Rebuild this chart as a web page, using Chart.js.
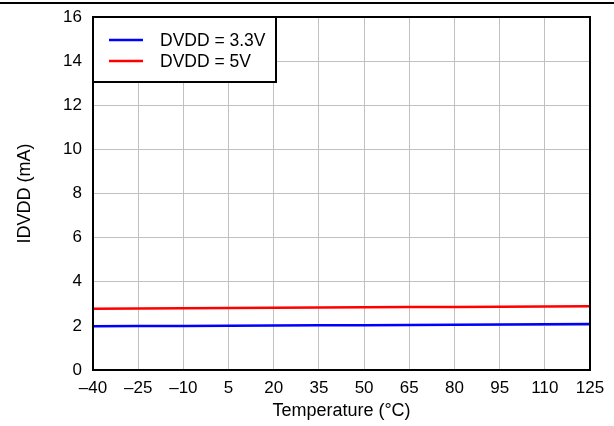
<!DOCTYPE html>
<html>
<head>
<meta charset="utf-8">
<script src="https://cdn.jsdelivr.net/npm/chart.js@4/dist/chart.umd.min.js"></script>
<style>
  html, body { margin: 0; padding: 0; background: #fff; }
  #wrap { position: relative; width: 614px; height: 426px; }
  #topRule { position: absolute; left: 0; top: 2px; width: 614px; height: 2px; background: #000; }
</style>
</head>
<body>
<div id="wrap">
  <div id="topRule"></div>
  <canvas id="chart" width="614" height="426"></canvas>
</div>
<script>
// --- Data ---
const temps = [-40, -25, -10, 5, 20, 35, 50, 65, 80, 95, 110, 125];
const dvdd33 = [1.98, 1.99, 2.0, 2.01, 2.02, 2.03, 2.03, 2.04, 2.05, 2.06, 2.07, 2.08];
const dvdd5 = [2.78, 2.79, 2.8, 2.81, 2.82, 2.83, 2.84, 2.85, 2.86, 2.87, 2.88, 2.89];
const seriesLabels = ['DVDD = 3.3V', 'DVDD = 5V'];
const seriesColors = ['#0000ff', '#ff0000'];

const FONT = 'Liberation Sans, Arial, sans-serif';

// frame around plot area + boxed legend in the top-left corner
const framePlugin = {
  id: 'frame',
  afterDatasetsDraw(chart) {
    const { ctx, chartArea: a } = chart;
    ctx.save();
    // legend box
    const lx = a.left, ly = a.top, lw = 183, lh = 65;
    ctx.fillStyle = '#fff';
    ctx.fillRect(lx, ly, lw, lh);
    ctx.strokeStyle = '#000';
    ctx.lineWidth = 2;
    ctx.strokeRect(lx, ly, lw, lh);
    ctx.font = '17.5px ' + FONT;
    ctx.textBaseline = 'middle';
    chart.data.datasets.forEach((ds, i) => {
      const y = ly + 23 + i * 21;
      ctx.strokeStyle = ds.borderColor;
      ctx.lineWidth = 2.5;
      ctx.beginPath();
      ctx.moveTo(lx + 16, y);
      ctx.lineTo(lx + 50, y);
      ctx.stroke();
      ctx.fillStyle = '#000';
      ctx.fillText(ds.label, lx + 67, y + 1);
    });
    // plot frame
    ctx.strokeStyle = '#000';
    ctx.lineWidth = 2;
    ctx.strokeRect(a.left, a.top, a.right - a.left, a.bottom - a.top);
    ctx.restore();
  }
};

new Chart(document.getElementById('chart'), {
  type: 'line',
  data: {
    labels: temps,
    datasets: [dvdd33, dvdd5].map((vals, i) => ({
      label: seriesLabels[i],
      data: vals.map((v, j) => ({ x: temps[j], y: v })),
      borderColor: seriesColors[i],
      borderWidth: 2.5,
      pointRadius: 0,
      tension: 0,
      fill: false
    }))
  },
  options: {
    responsive: false,
    animation: false,
    layout: { padding: { top: 17, right: 24, left: 0, bottom: 0 } },
    plugins: { legend: { display: false }, tooltip: { enabled: false } },
    scales: {
      x: {
        type: 'linear',
        min: -40,
        max: 125,
        afterFit(s) { s.height = 56; s.paddingLeft = 0; s.paddingRight = 0; },
        ticks: {
          stepSize: 15,
          color: '#000',
          font: { family: FONT, size: 17 },
          padding: 8,
          maxRotation: 0,
          callback: v => String(v).replace('-', '\u2013')
        },
        grid: { color: '#c0c0c0', lineWidth: 1, drawTicks: false },
        border: { color: '#000', width: 2 },
        title: {
          display: true,
          text: 'Temperature (\u00b0C)',
          color: '#000',
          font: { family: FONT, size: 18 },
          padding: { top: 0, bottom: 4 }
        }
      },
      y: {
        min: 0,
        max: 16,
        afterFit(s) { s.width = 93; s.paddingTop = 0; s.paddingBottom = 0; },
        ticks: {
          stepSize: 2,
          color: '#000',
          font: { family: FONT, size: 17 },
          padding: 11
        },
        grid: { color: '#c0c0c0', lineWidth: 1, drawTicks: false },
        border: { color: '#000', width: 2 },
        title: {
          display: true,
          text: 'IDVDD (mA)',
          color: '#000',
          font: { family: FONT, size: 18 },
          padding: { top: 14, bottom: 0 }
        }
      }
    }
  },
  plugins: [framePlugin]
});
</script>
</body>
</html>
